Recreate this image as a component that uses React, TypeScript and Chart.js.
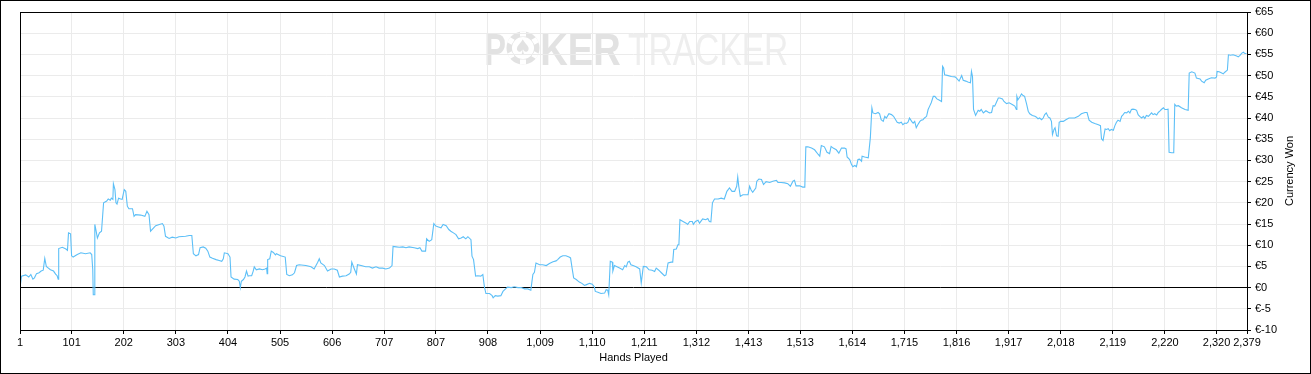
import React, { useEffect, useRef } from 'react';
import { Chart, registerables } from 'chart.js';

Chart.register(...registerables);

// Hands played (x) and cumulative currency won (y)
const hands: number[] = [
  1, 4, 12, 18, 22, 26, 29, 33, 38, 42, 46, 49, 52, 56, 60, 66, 70, 73, 75, 76, 83, 90, 93, 95, 99, 101, 104, 112, 119, 128, 137, 140, 142, 143, 145, 146, 148, 151, 155, 159, 163, 169, 172, 176, 178, 181, 182, 185, 187, 189, 192, 196, 199, 203, 206, 209, 212, 219, 222, 225, 235, 243, 247, 251, 254, 260, 264, 271, 277, 280, 283, 290, 296, 303,
  309, 322, 329, 334, 337, 342, 347, 350, 356, 361, 365, 369, 374, 381, 387, 392, 395, 397, 404, 408, 410, 416, 423, 426, 428, 430, 434, 437, 440, 443, 446, 450, 453, 455, 459, 465, 471, 476, 479, 480, 481, 485, 488, 492, 496, 498, 503, 506, 515, 518, 523, 529, 533, 537,
  542, 555, 565, 571, 578, 581, 584, 591, 597, 604, 610, 616, 620, 626, 633, 639, 642, 644, 649, 653, 655, 662, 671, 678, 684, 691, 697, 704, 710, 717, 722, 724, 730, 736, 743, 749, 755, 765, 772, 776, 780, 787, 789, 794, 799, 803, 807, 812, 817, 821, 827, 832, 836, 841, 846, 851, 856, 860, 865, 869, 875, 877, 880, 884, 888, 894, 898, 901, 904, 911, 916, 918, 922, 927, 933, 937, 942, 946, 953, 959, 966, 972, 979, 985, 991, 995, 998, 1001, 1008, 1014, 1021, 1027, 1034, 1040, 1043, 1048, 1053, 1059, 1065, 1068, 1071, 1074, 1079, 1085, 1090, 1095, 1099, 1105, 1110, 1114, 1116, 1121, 1127, 1134, 1137, 1140, 1142, 1145, 1149, 1150, 1153, 1158, 1163, 1169, 1173, 1176, 1179, 1182, 1185, 1189, 1195, 1202,
  1205, 1209, 1215, 1220, 1226, 1231, 1234, 1239, 1244, 1250, 1253, 1257, 1263, 1266, 1268, 1273, 1276, 1278, 1280, 1286, 1292, 1295, 1299, 1304, 1306, 1310, 1315, 1318, 1324, 1330, 1334, 1337, 1340, 1343, 1347, 1354, 1360, 1366, 1371, 1376, 1381, 1386, 1390, 1392, 1394, 1397, 1402, 1407, 1412, 1415, 1418, 1421, 1427, 1429, 1433, 1438, 1442, 1447, 1454, 1460, 1467, 1470, 1476, 1483, 1489, 1494, 1499, 1502, 1505, 1512, 1518, 1522, 1524, 1528, 1535, 1541, 1548, 1551, 1554, 1560, 1565, 1570, 1573, 1577, 1583, 1588, 1593, 1599, 1602, 1604, 1609, 1612, 1615, 1619, 1622, 1625, 1628, 1632, 1633, 1638, 1645,
  1649, 1652, 1654, 1659, 1664, 1667, 1670, 1674, 1677, 1680, 1685, 1690, 1694, 1698, 1701, 1705, 1709, 1712, 1716, 1719, 1722, 1725, 1729, 1732, 1735, 1738, 1741, 1745, 1748, 1751, 1754, 1758, 1761, 1764, 1767, 1771, 1774, 1778, 1783, 1787, 1789, 1791, 1793, 1800, 1806, 1813, 1816, 1821, 1826, 1829, 1834, 1838, 1843, 1845, 1847, 1849, 1853, 1858, 1861, 1864, 1868, 1873, 1877, 1880, 1884, 1887, 1890, 1893, 1897, 1900, 1905, 1908, 1913, 1918, 1924, 1929, 1932, 1933, 1935, 1939, 1942, 1945, 1948, 1952, 1955, 1958, 1963, 1968, 1971, 1974, 1977, 1981, 1984, 1987, 1990, 1994, 1997, 2000, 2002, 2005, 2007, 2010, 2013, 2015, 2018, 2023, 2028, 2034, 2039, 2045, 2052, 2058, 2065, 2069, 2073, 2078, 2084, 2091, 2095, 2097, 2100, 2104, 2107, 2110, 2113, 2116, 2120, 2123, 2126, 2129, 2133, 2136, 2139, 2142, 2146, 2149, 2152, 2155, 2158, 2162, 2165, 2168, 2171, 2175, 2178, 2181, 2184, 2188, 2191, 2194, 2197, 2200, 2204, 2207, 2210, 2213, 2217, 2220, 2223, 2226, 2228, 2233, 2237, 2239, 2242, 2246, 2252, 2259,
  2265, 2267, 2272, 2278, 2281, 2288, 2291, 2296, 2299, 2304, 2310, 2317, 2320, 2321, 2325, 2330, 2333, 2336, 2341, 2343, 2347, 2352, 2359, 2362, 2365, 2369, 2372, 2375, 2378,
];

const won: number[] = [
  0, 2.7, 3.0, 2.5, 3.1, 2.0, 2.3, 3.3, 3.5, 3.9, 4.1, 6.9, 5.0, 4.6, 4.2, 3.9, 3.2, 2.8, 2.0, 9.2, 9.5, 9.1, 8.8, 12.9, 12.7, 7.5, 7.2, 7.8, 8.2, 8.0, 8.2, 7.8, 4.2, -1.7, -1.7, 14.9, 13.7, 11.7, 12.9, 13.3, 20.0, 20.4, 20.9, 20.6, 21.1, 20.8, 24.5, 23.1, 20.0, 19.7, 21.1, 20.9, 20.8, 23.1, 22.7, 19.2, 18.6, 18.6, 16.8, 17.2, 17.1, 16.8, 18.0, 17.2, 13.3, 14.1, 14.6, 14.9, 15.1, 14.5, 12.1, 11.6, 11.9, 11.7,
  12.0, 12.1, 12.3, 12.3, 8.0, 7.5, 7.8, 9.4, 9.6, 9.3, 8.6, 7.2, 6.9, 6.6, 6.4, 6.2, 6.8, 8.2, 8.0, 7.2, 2.5, 2.0, 1.9, 1.5, 0, 1.5, 1.9, 2.5, 3.9, 2.7, 2.8, 2.8, 3.9, 4.9, 4.2, 4.4, 4.2, 4.4, 4.6, 3.3, 6.6, 6.8, 8.6, 8.3, 7.7, 8.0, 7.7, 7.5, 7.2, 3.1, 2.8, 3.0, 3.5, 5.2,
  5.4, 5.2, 4.9, 4.4, 6.0, 6.8, 5.8, 5.2, 3.9, 4.4, 4.4, 4.1, 2.5, 2.7, 2.8, 3.2, 3.6, 6.0, 4.4, 3.2, 5.4, 5.2, 4.9, 4.9, 4.6, 4.9, 4.6, 4.6, 4.4, 4.6, 5.2, 9.7, 9.6, 9.5, 9.6, 9.4, 9.6, 9.4, 9.2, 9.4, 8.6, 8.6, 11.5, 10.9, 11.3, 15.1, 14.5, 14.3, 14.1, 14.9, 14.6, 13.7, 13.3, 12.9, 12.5, 11.5, 11.7, 12.0, 11.5, 12.0, 11.3, 7.4, 6.6, 2.7, 2.8, 2.7, 3.1, 0.2, -1.4, -1.4, -1.9, -2.4, -1.9, -2.0, -1.9, -0.9, -0.3, 0.1, 0.0, 0.2, 0.0, 0.0, -0.3, -0.3, -0.6, 3.1, 3.6, 5.8, 5.4, 5.4, 5.2, 5.7, 6.1, 6.3, 6.6, 7.2, 7.5, 7.5, 7.2, 7.0, 4.6, 2.3, 1.9, 1.3, 1.0, 0.5, 0.7, 1.0, 0.8, 0.2, -0.9, -1.1, -1.4, -1.3, -0.5, -0.6, -1.7, 6.2, 6.0, 3.9, 5.2, 4.9, 4.6, 4.2, 5.2, 4.9, 6.0, 6.2, 5.4, 5.2, 4.9, 4.4,
  1.1, 5.0, 4.9, 4.2, 4.1, 3.8, 4.6, 4.1, 3.5, 2.8, 3.0, 5.8, 6.0, 6.0, 9.0, 9.1, 10.1, 10.1, 16.0, 15.6, 15.2, 14.9, 15.6, 15.6, 14.9, 15.6, 15.9, 15.2, 16.2, 16.0, 16.3, 15.6, 15.5, 20.0, 20.9, 20.9, 21.1, 20.9, 22.7, 23.5, 22.7, 22.7, 23.9, 26.1, 23.9, 21.5, 21.9, 21.9, 21.9, 23.9, 23.0, 22.5, 23.5, 25.1, 25.6, 25.5, 24.3, 25.0, 24.8, 25.1, 25.3, 24.8, 24.8, 24.7, 24.5, 23.9, 25.1, 25.3, 24.0, 24.0, 23.7, 23.7, 33.2, 33.2, 32.9, 32.5, 31.4, 31.0, 33.5, 33.2, 31.9, 31.6, 33.3, 32.9, 32.5, 31.7, 32.9, 32.9, 32.7, 30.8, 30.2, 29.2, 28.5, 28.8, 28.5, 30.2, 30.3, 29.8, 31.0, 30.8, 30.6,
  35.3, 42.4, 41.2, 41.0, 41.3, 41.0, 39.6, 39.2, 40.4, 40.0, 41.0, 40.8, 40.4, 39.6, 39.0, 38.8, 39.0, 38.4, 38.8, 38.7, 39.0, 40.0, 39.2, 38.8, 39.2, 37.7, 38.4, 39.2, 39.5, 39.6, 40.0, 40.4, 42.0, 42.8, 43.6, 45.1, 45.1, 44.5, 44.2, 43.9, 52.2, 51.8, 50.2, 50.0, 49.8, 49.7, 49.4, 48.7, 50.0, 48.9, 48.7, 48.5, 48.3, 51.0, 49.8, 42.0, 40.6, 41.8, 41.6, 42.0, 41.2, 41.7, 41.4, 41.2, 41.3, 42.9, 42.8, 43.6, 44.7, 44.7, 44.5, 43.9, 43.4, 43.6, 43.2, 42.8, 42.0, 45.1, 44.3, 45.0, 45.7, 45.3, 45.1, 43.2, 41.6, 41.0, 40.6, 40.4, 40.2, 39.8, 40.0, 39.6, 40.0, 40.8, 41.2, 40.2, 40.0, 39.2, 36.1, 37.3, 37.7, 35.8, 35.7, 39.0, 39.2, 39.2, 39.6, 40.0, 40.0, 40.0, 40.4, 41.0, 41.3, 41.3, 39.5, 39.0, 38.7, 38.4, 38.2, 35.1, 34.7, 37.4, 37.3, 37.5, 37.0, 37.3, 37.1, 38.2, 39.0, 39.5, 39.2, 40.4, 40.8, 41.3, 41.2, 41.6, 41.2, 42.0, 42.1, 42.0, 41.8, 40.8, 40.4, 40.0, 40.4, 39.9, 40.6, 40.4, 40.8, 41.2, 40.8, 41.0, 40.7, 41.3, 41.6, 42.0, 42.4, 42.0, 42.0, 42.1, 31.9, 31.8, 31.8, 43.2, 42.8, 42.9, 42.4, 42.0,
  41.8, 50.6, 50.9, 50.6, 49.4, 49.2, 48.7, 48.3, 48.9, 49.2, 49.5, 49.4, 49.7, 51.0, 50.9, 50.6, 50.4, 50.8, 51.3, 54.9, 54.8, 54.9, 54.6, 54.4, 54.7, 55.3, 55.5, 55.2, 55.2,
];

const handTicks: number[] = [1, 101, 202, 303, 404, 505, 606, 707, 807, 908, 1009, 1110, 1211, 1312, 1413, 1513, 1614, 1715, 1816, 1917, 2018, 2119, 2220, 2320, 2379];
const wonMin = -10;
const wonMax = 65;
const wonStep = 5;
const xTitle = 'Hands Played';
const yTitle = 'Currency Won';

const FONT = '"Liberation Sans", Arial, sans-serif';

function drawFit(ctx: CanvasRenderingContext2D, text: string, x0: number, x1: number, baseline: number, font: string, color: string) {
  ctx.save();
  ctx.font = font;
  ctx.fillStyle = color;
  ctx.textBaseline = 'alphabetic';
  const m = ctx.measureText(text);
  const left = m.actualBoundingBoxLeft || 0;
  const ink = (m.actualBoundingBoxRight || m.width) + left;
  const sx = (x1 - x0) / ink;
  ctx.translate(x0, baseline);
  ctx.scale(sx, 1);
  ctx.fillText(text, left, 0);
  ctx.restore();
}

const decorPlugin = {
  id: 'decor',
  beforeDraw(chart: any) {
    const ctx: CanvasRenderingContext2D = chart.ctx;
    ctx.save();
    ctx.fillStyle = '#ffffff';
    ctx.fillRect(0, 0, chart.width, chart.height);
    ctx.restore();
    // watermark
    const dark = '#e2e2e2';
    const light = '#eeeeee';
    drawFit(ctx, 'P', 486, 505, 65, `bold 44px ${FONT}`, dark);
    // chip "O"
    ctx.save();
    const cx = 523, cy = 48, r = 16.5;
    ctx.fillStyle = dark;
    ctx.beginPath();
    ctx.arc(cx, cy, r, 0, Math.PI * 2);
    ctx.fill();
    ctx.fillStyle = '#ffffff';
    for (let i = 0; i < 6; i++) {
      const a = (i * Math.PI) / 3 + Math.PI / 6;
      ctx.save();
      ctx.translate(cx + Math.cos(a) * (r - 2.5), cy + Math.sin(a) * (r - 2.5));
      ctx.rotate(a);
      ctx.fillRect(-2.5, -3, 5, 6);
      ctx.restore();
    }
    ctx.beginPath();
    ctx.arc(cx, cy, r - 5.5, 0, Math.PI * 2);
    ctx.fill();
    ctx.fillStyle = dark;
    ctx.font = `20px "DejaVu Sans", sans-serif`;
    ctx.textAlign = 'center';
    ctx.textBaseline = 'middle';
    ctx.fillText('\u2660', cx, cy + 1);
    ctx.restore();
    drawFit(ctx, 'KER', 542, 620, 65, `bold 44px ${FONT}`, dark);
    drawFit(ctx, 'TRACKER', 628, 787, 65, `44px ${FONT}`, light);
  },
  afterDraw(chart: any) {
    const ctx: CanvasRenderingContext2D = chart.ctx;
    const a = chart.chartArea;
    ctx.save();
    ctx.strokeStyle = '#000';
    ctx.lineWidth = 1;
    ctx.strokeRect(Math.round(a.left) + 0.5, Math.round(a.top) + 0.5, Math.round(a.right - a.left), Math.round(a.bottom - a.top));
    ctx.strokeRect(0.5, 0.5, chart.width - 1, chart.height - 1);
    ctx.fillStyle = '#000';
    ctx.font = `11px ${FONT}`;
    ctx.textAlign = 'center';
    ctx.textBaseline = 'middle';
    ctx.fillText(xTitle, (a.left + a.right) / 2, 358);
    ctx.translate(1290, (a.top + a.bottom) / 2);
    ctx.rotate(-Math.PI / 2);
    ctx.fillText(yTitle, 0, 0);
    ctx.restore();
  },
};

export default function App() {
  const ref = useRef<HTMLCanvasElement | null>(null);
  useEffect(() => {
    document.body.style.margin = '0';
    const canvas = ref.current;
    if (!canvas) return;
    const points = hands.map((h, i) => ({ x: h, y: won[i] }));
    const chart = new Chart(canvas, {
      type: 'line',
      data: {
        datasets: [
          {
            data: points,
            borderColor: '#5cbff7',
            borderWidth: 1.1,
            pointRadius: 0,
            tension: 0,
            fill: false,
          },
        ],
      },
      options: {
        responsive: false,
        animation: false,
        layout: { padding: { left: 20, top: 12, right: 0, bottom: 0 } },
        plugins: { legend: { display: false }, tooltip: { enabled: false } },
        scales: {
          x: {
            type: 'linear',
            min: 1,
            max: 2379,
            afterBuildTicks: (scale: any) => {
              scale.ticks = handTicks.map((v) => ({ value: v }));
            },
            afterFit: (scale: any) => {
              scale.height = 44;
              scale.paddingLeft = 0;
              scale.paddingRight = 0;
            },
            grid: { color: '#ebebeb', tickColor: '#000', tickLength: 4, lineWidth: 1 },
            border: { display: true, color: '#000' },
            ticks: {
              autoSkip: false,
              maxRotation: 0,
              minRotation: 0,
              padding: 2,
              color: '#000',
              font: { family: FONT, size: 11 },
              callback: (v: any) => Number(v).toLocaleString('en-US'),
            },
          },
          y: {
            position: 'right',
            min: wonMin,
            max: wonMax,
            afterFit: (scale: any) => {
              scale.width = 64;
            },
            grid: {
              color: (c: any) => (c.tick && c.tick.value === 0 ? '#000' : '#ebebeb'),
              tickColor: '#000',
              tickLength: 4,
            },
            border: { display: true, color: '#000' },
            ticks: {
              stepSize: wonStep,
              padding: 4,
              color: '#000',
              font: { family: FONT, size: 11 },
              callback: (v: any) => '\u20ac' + v,
            },
          },
        },
      },
      plugins: [decorPlugin],
    });
    return () => chart.destroy();
  }, []);
  return (
    <div style={{ position: 'fixed', left: 0, top: 0, width: 1311, height: 374, background: '#fff' }}>
      <canvas ref={ref} width={1311} height={374} style={{ display: 'block' }} />
    </div>
  );
}
